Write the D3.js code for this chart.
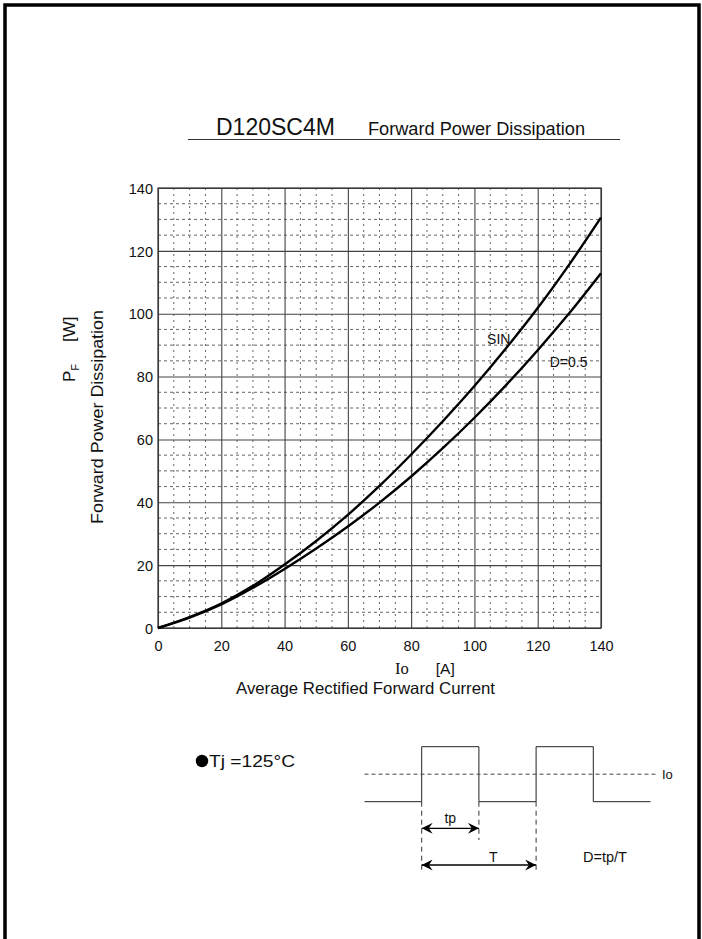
<!DOCTYPE html>
<html><head><meta charset="utf-8">
<script src="https://cdn.jsdelivr.net/npm/d3@7"></script>
<style>
body{margin:0;background:#fff}
svg{display:block}
text{font-family:"Liberation Sans",Arial,Helvetica,sans-serif;fill:#111}
</style>
</head><body>
<svg id="c" width="702" height="939"></svg>
<script>
// ---- data ----
const current       = [0, 10, 20, 30, 40, 50, 60, 70, 80, 90, 100, 110, 120, 130, 140];
const sinPower      = [0, 3.5, 7.8, 13.4, 20.2, 27.7, 36.0, 45.2, 55.2, 65.8, 77.0, 89.0, 101.8, 115.7, 130.6];
const halfDutyPower = [0, 3.3, 7.5, 12.8, 18.8, 25.3, 32.3, 39.9, 48.2, 57.2, 66.9, 77.3, 88.4, 100.2, 112.9];
const xTicks = [0, 20, 40, 60, 80, 100, 120, 140];
const yTicks = [0, 20, 40, 60, 80, 100, 120, 140];
const seriesLabels = ["SIN", "D=0.5"];
// waveform diagram (abstract units: time in tp, level 0..1)
const waveTimes  = [-1, 0, 0, 1, 1, 2, 2, 3, 3, 4];
const waveLevels = [0, 0, 1, 1, 0, 0, 1, 1, 0, 0];

const svg = d3.select("#c");

// page border
svg.append("rect").attr("x", 5).attr("y", 5).attr("width", 694).attr("height", 960)
  .attr("fill", "none").attr("stroke", "#000").attr("stroke-width", 3.5);

// title
svg.append("text").attr("x", 216).attr("y", 135).attr("font-size", 23).text("D120SC4M");
svg.append("text").attr("x", 368).attr("y", 135).attr("font-size", 17.5)
  .attr("textLength", 217).attr("lengthAdjust", "spacingAndGlyphs").text("Forward Power Dissipation");
svg.append("line").attr("x1", 188).attr("x2", 620).attr("y1", 139.5).attr("y2", 139.5)
  .attr("stroke", "#333").attr("stroke-width", 1);

// scales
const x = d3.scaleLinear().domain([0, 140]).range([158, 601]);
const y = d3.scaleLinear().domain([0, 140]).range([628, 188]);

// minor grid (every 5)
const minor = d3.range(5, 140, 5).filter(v => v % 20 !== 0);
const g = svg.append("g");
g.selectAll(".vx").data(minor).join("line")
  .attr("x1", d => x(d)).attr("x2", d => x(d)).attr("y1", y(0)).attr("y2", y(140))
  .attr("stroke", "#666").attr("stroke-width", 1).attr("stroke-dasharray", "2,4");
g.selectAll(".hy").data(minor).join("line")
  .attr("y1", d => y(d)).attr("y2", d => y(d)).attr("x1", x(0)).attr("x2", x(140))
  .attr("stroke", "#666").attr("stroke-width", 1).attr("stroke-dasharray", "3,3");

// major grid + axes
const xAxisG = svg.append("g").attr("transform", `translate(0,${y(0)})`)
  .call(d3.axisBottom(x).tickValues(xTicks).tickSize(-(y(0) - y(140))).tickPadding(8).tickFormat(d3.format("d")));
const yAxisG = svg.append("g").attr("transform", `translate(${x(0)},0)`)
  .call(d3.axisLeft(y).tickValues(yTicks).tickSize(-(x(140) - x(0))).tickPadding(5).tickFormat(d3.format("d")));
[xAxisG, yAxisG].forEach(a => {
  a.select(".domain").remove();
  a.selectAll(".tick line").attr("stroke", "#444").attr("stroke-width", 1.1);
  a.selectAll(".tick text").attr("font-size", 14.5).attr("fill", "#111")
   .attr("font-family", "Liberation Sans, Arial, sans-serif");
});
xAxisG.selectAll(".tick text").attr("dy", "1.05em");
yAxisG.selectAll(".tick text").attr("dy", "0.36em");

// plot frame
svg.append("rect").attr("x", x(0)).attr("y", y(140)).attr("width", x(140) - x(0)).attr("height", y(0) - y(140))
  .attr("fill", "none").attr("stroke", "#333").attr("stroke-width", 1.2);

// curves
const line = d3.line().x((d, i) => x(current[i])).y(d => y(d)).curve(d3.curveMonotoneX);
[sinPower, halfDutyPower].forEach(s => {
  svg.append("path").attr("d", line(s)).attr("fill", "none")
    .attr("stroke", "#000").attr("stroke-width", 2.4);
});

// series labels
svg.append("text").attr("x", x(104.0)).attr("y", y(90.5)).attr("font-size", 14).text(seriesLabels[0]);
svg.append("text").attr("x", x(123.8)).attr("y", y(83)).attr("font-size", 14).text(seriesLabels[1]);

// x-axis title
const xt = svg.append("text").attr("x", 395).attr("y", 674).attr("font-size", 15.5);
xt.append("tspan").attr("font-family", "Liberation Serif, Times New Roman, serif").attr("font-size", 16.5).text("Io");
xt.append("tspan").attr("dx", 27).text("[A]");
svg.append("text").attr("x", 236).attr("y", 694).attr("font-size", 16.5)
  .attr("textLength", 259).attr("lengthAdjust", "spacingAndGlyphs").text("Average Rectified Forward Current");

// y-axis title
const yt1 = svg.append("text").attr("transform", "translate(75,382) rotate(-90)").attr("font-size", 17);
yt1.append("tspan").text("P");
yt1.append("tspan").attr("font-size", 11).attr("dy", 4).text("F");
yt1.append("tspan").attr("dy", -4).attr("dx", 22).text("[W]");
svg.append("text").attr("transform", "translate(103,524) rotate(-90)").attr("font-size", 17)
  .attr("textLength", 214).attr("lengthAdjust", "spacingAndGlyphs")
  .text("Forward Power Dissipation");

// Tj note
svg.append("circle").attr("cx", 202).attr("cy", 761).attr("r", 6.2).attr("fill", "#000");
svg.append("text").attr("x", 209).attr("y", 767).attr("font-size", 16)
  .attr("textLength", 86).attr("lengthAdjust", "spacingAndGlyphs").text("Tj =125°C");

// waveform diagram
const t = d3.scaleLinear().domain([0, 1]).range([421.7, 478.9]);
const lv = d3.scaleLinear().domain([0, 1]).range([801.7, 746.7]);
const wave = d3.line().x((d, i) => t(waveTimes[i])).y(d => lv(d));
svg.append("path").attr("d", wave(waveLevels)).attr("fill", "none").attr("stroke", "#222").attr("stroke-width", 1);
svg.append("line").attr("x1", t(-1)).attr("x2", t(4.1)).attr("y1", lv(0.5)).attr("y2", lv(0.5))
  .attr("stroke", "#444").attr("stroke-width", 1).attr("stroke-dasharray", "4,3");
svg.append("text").attr("x", t(4.2)).attr("y", lv(0.5) + 5).attr("font-size", 13)
  .attr("font-family", "Liberation Serif, Times New Roman, serif").text("Io");
// dashed guides
[[0, 873], [1, 840], [2, 873]].forEach(([tt, yb]) => {
  svg.append("line").attr("x1", t(tt)).attr("x2", t(tt)).attr("y1", lv(0)).attr("y2", yb)
    .attr("stroke", "#333").attr("stroke-width", 1).attr("stroke-dasharray", "5,4");
});
// arrows
const defs = svg.append("defs");
defs.append("marker").attr("id", "ah").attr("viewBox", "0 0 10 10").attr("refX", 10).attr("refY", 5)
  .attr("markerWidth", 15).attr("markerHeight", 11).attr("markerUnits", "userSpaceOnUse").attr("orient", "auto-start-reverse")
  .append("path").attr("d", "M0,0 L10,5 L0,10 L3.5,5 Z").attr("fill", "#000");
function arrow(t0, t1, yy) {
  svg.append("line").attr("x1", t(t0)).attr("x2", t(t1)).attr("y1", yy).attr("y2", yy)
    .attr("stroke", "#000").attr("stroke-width", 1.3)
    .attr("marker-start", "url(#ah)").attr("marker-end", "url(#ah)");
}
arrow(0, 1, 828.3);
arrow(0, 2, 865);
svg.append("text").attr("x", t(0.5)).attr("y", 823).attr("font-size", 14).attr("text-anchor", "middle").text("tp");
svg.append("text").attr("x", t(1.25)).attr("y", 861.5).attr("font-size", 14).attr("text-anchor", "middle").text("T");
svg.append("text").attr("x", 583).attr("y", 862).attr("font-size", 14.5).text("D=tp/T");
</script>
</body></html>
